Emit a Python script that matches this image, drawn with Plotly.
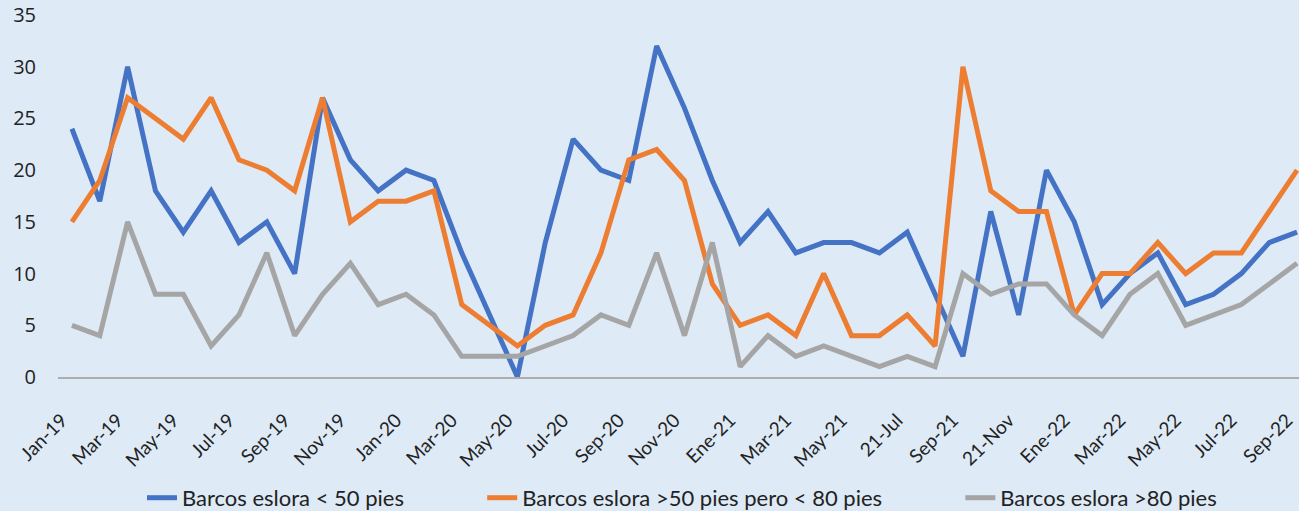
import plotly.graph_objects as go

months = [
    "Jan-19", "Feb-19", "Mar-19", "Apr-19", "May-19", "Jun-19", "Jul-19", "Aug-19",
    "Sep-19", "Oct-19", "Nov-19", "Dec-19", "Jan-20", "Feb-20", "Mar-20", "Apr-20",
    "May-20", "Jun-20", "Jul-20", "Aug-20", "Sep-20", "Oct-20", "Nov-20", "Dec-20",
    "Ene-21", "Feb-21", "Mar-21", "Apr-21", "May-21", "Jun-21", "21-Jul", "Aug-21",
    "Sep-21", "Oct-21", "21-Nov", "Dec-21", "Ene-22", "Feb-22", "Mar-22", "Apr-22",
    "May-22", "Jun-22", "Jul-22", "Aug-22", "Sep-22",
]

tick_labels = months[::2]

menos_50 = [24, 17, 30, 18, 14, 18, 13, 15, 10, 27, 21, 18, 20, 19, 12, 6,
            0, 13, 23, 20, 19, 32, 26, 19, 13, 16, 12, 13, 13, 12, 14, 8,
            2, 16, 6, 20, 15, 7, 10, 12, 7, 8, 10, 13, 14]

entre_50_80 = [15, 19, 27, 25, 23, 27, 21, 20, 18, 27, 15, 17, 17, 18, 7, 5,
               3, 5, 6, 12, 21, 22, 19, 9, 5, 6, 4, 10, 4, 4, 6, 3,
               30, 18, 16, 16, 6, 10, 10, 13, 10, 12, 12, 16, 20]

mas_80 = [5, 4, 15, 8, 8, 3, 6, 12, 4, 8, 11, 7, 8, 6, 2, 2,
          2, 3, 4, 6, 5, 12, 4, 13, 1, 4, 2, 3, 2, 1, 2, 1,
          10, 8, 9, 9, 6, 4, 8, 10, 5, 6, 7, 9, 11]

series_names = [
    "Barcos eslora < 50 pies",
    "Barcos eslora >50 pies pero < 80 pies",
    "Barcos eslora >80 pies",
]
series_values = [menos_50, entre_50_80, mas_80]
colors = ["#4472C4", "#ED7D31", "#A5A5A5"]
pads = ["\u00a0" * 13, "\u00a0" * 13, ""]

fig = go.Figure()
for name, vals, col, pad in zip(series_names, series_values, colors, pads):
    fig.add_trace(go.Scatter(
        x=months, y=vals, mode="lines", name=name + pad,
        line=dict(color=col, width=5), cliponaxis=False,
    ))

bg = "#DEEAF6"
fig.update_layout(
    width=1299, height=511,
    paper_bgcolor=bg, plot_bgcolor=bg,
    margin=dict(l=58, r=0, t=15, b=134, autoexpand=False),
    showlegend=True,
    legend=dict(
        orientation="h", x=(142 - 58) / 1241, xanchor="left",
        y=-0.334, yanchor="middle",
        font=dict(family="Lato", size=22, color="#222222"),
        bgcolor="rgba(0,0,0,0)", itemwidth=30,
    ),
    font=dict(family="Open Sans", color="#222222"),
)
fig.update_xaxes(
    type="category", range=[-0.5, 44.07], automargin=False,
    tickmode="array", tickvals=tick_labels, ticktext=tick_labels,
    tickangle=-45, tickfont=dict(family="Lato", size=19, color="#222222"),
    ticklabelshift=-10, ticklabelstandoff=23,
    showline=True, linecolor="#ADADAD", linewidth=1.5,
    showgrid=False, ticks="", zeroline=False,
)
fig.update_yaxes(
    range=[0, 35], tickmode="linear", tick0=0, dtick=5, automargin=False,
    tickfont=dict(family="Open Sans", size=20, color="#222222"),
    showgrid=False, zeroline=False, showline=False, ticks="",
    ticklabelstandoff=21,
)

fig.write_html("out.html", config={"displayModeBar": False},
               post_script="document.body.style.margin='0';")
